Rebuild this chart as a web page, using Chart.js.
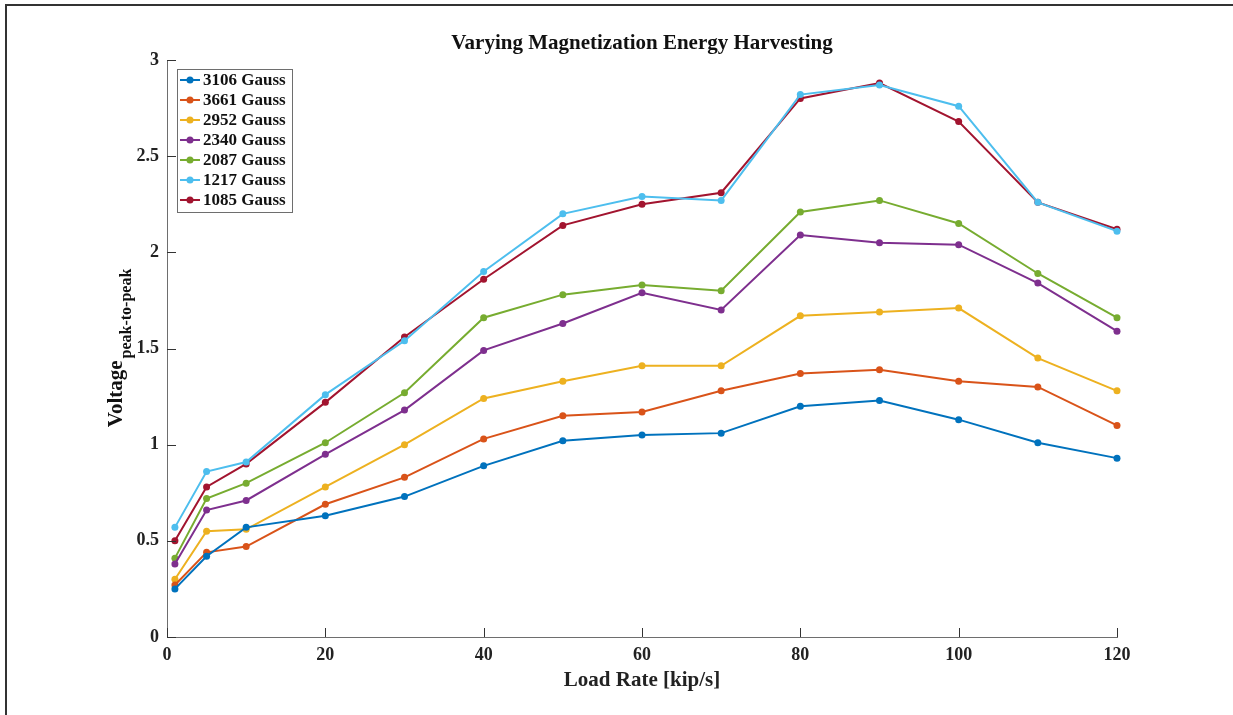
<!DOCTYPE html>
<html lang="en">
<head>
    <meta charset="UTF-8">
    <title>Varying Magnetization Energy Harvesting</title>
    <style>
      body { margin: 0; background: white; }
      #wrap { position: relative; width: 1233px; height: 715px; overflow: hidden; }
      #frame {
        position: absolute; left: 5px; top: 4px; width: 1240px; height: 720px;
        border-left: 2px solid #333; border-top: 2px solid #333;
      }
    </style>
</head>
<body>
    <div id="wrap">
      <div id="frame"></div>
      <canvas id="magChart" width="1233" height="715"></canvas>
    </div>

    <script src="https://cdn.jsdelivr.net/npm/chart.js"></script>
    <script>
        // data
        const loadRates = [1, 5, 10, 20, 30, 40, 50, 60, 70, 80, 90, 100, 110, 120];
        const seriesNames = ['3106 Gauss', '3661 Gauss', '2952 Gauss', '2340 Gauss', '2087 Gauss', '1217 Gauss', '1085 Gauss'];
        const g3106 = [0.25, 0.42, 0.57, 0.63, 0.73, 0.89, 1.02, 1.05, 1.06, 1.20, 1.23, 1.13, 1.01, 0.93];
        const g3661 = [0.27, 0.44, 0.47, 0.69, 0.83, 1.03, 1.15, 1.17, 1.28, 1.37, 1.39, 1.33, 1.30, 1.10];
        const g2952 = [0.30, 0.55, 0.56, 0.78, 1.00, 1.24, 1.33, 1.41, 1.41, 1.67, 1.69, 1.71, 1.45, 1.28];
        const g2340 = [0.38, 0.66, 0.71, 0.95, 1.18, 1.49, 1.63, 1.79, 1.70, 2.09, 2.05, 2.04, 1.84, 1.59];
        const g2087 = [0.41, 0.72, 0.80, 1.01, 1.27, 1.66, 1.78, 1.83, 1.80, 2.21, 2.27, 2.15, 1.89, 1.66];
        const g1217 = [0.57, 0.86, 0.91, 1.26, 1.54, 1.90, 2.20, 2.29, 2.27, 2.82, 2.87, 2.76, 2.26, 2.11];
        const g1085 = [0.50, 0.78, 0.90, 1.22, 1.56, 1.86, 2.14, 2.25, 2.31, 2.80, 2.88, 2.68, 2.26, 2.12];
        const seriesValues = [g3106, g3661, g2952, g2340, g2087, g1217, g1085];
        const seriesColors = ['#0072BD', '#D95319', '#EDB120', '#7E2F8E', '#77AC30', '#4DBEEE', '#A2142F'];
        const xTicks = [0, 20, 40, 60, 80, 100, 120];
        const yTicks = [0, 0.5, 1, 1.5, 2, 2.5, 3];

        const serif = '"Liberation Serif", "Times New Roman", serif';
        const axisColor = '#6e6e6e';

        const datasets = seriesNames.map((name, i) => ({
            label: name,
            data: loadRates.map((x, j) => ({ x: x, y: seriesValues[i][j] })),
            borderColor: seriesColors[i],
            backgroundColor: seriesColors[i],
            borderWidth: 2,
            pointRadius: 3.5,
            pointHoverRadius: 3.5,
            pointBorderWidth: 0,
            tension: 0,
            clip: false
        }));

        // title, y label with subscript, inward ticks, legend box
        const extras = {
            id: 'extras',
            afterDraw(chart) {
                const c = chart.ctx;
                const area = chart.chartArea;
                const xs = chart.scales.x, ys = chart.scales.y;
                c.save();

                // inward ticks
                c.strokeStyle = '#333';
                c.lineWidth = 1;
                c.beginPath();
                yTicks.forEach(v => {
                    const py = Math.round(ys.getPixelForValue(v)) + 0.5;
                    c.moveTo(area.left, py); c.lineTo(area.left + 9, py);
                });
                xTicks.forEach(v => {
                    const px = Math.round(xs.getPixelForValue(v)) + 0.5;
                    c.moveTo(px, area.bottom); c.lineTo(px, area.bottom - 9);
                });
                c.stroke();

                // title
                c.fillStyle = '#111';
                c.font = 'bold 21px ' + serif;
                c.textAlign = 'center';
                c.textBaseline = 'middle';
                c.fillText('Varying Magnetization Energy Harvesting', (area.left + area.right) / 2, 44);

                // y axis label
                c.translate(117, 348);
                c.rotate(-Math.PI / 2);
                c.font = 'bold 21px ' + serif;
                const mainW = c.measureText('Voltage').width;
                c.font = 'bold 16px ' + serif;
                const subW = c.measureText('peak-to-peak').width;
                const start = -(mainW + subW + 2) / 2;
                c.textAlign = 'left';
                c.textBaseline = 'middle';
                c.font = 'bold 21px ' + serif;
                c.fillText('Voltage', start, 0);
                c.font = 'bold 16px ' + serif;
                c.fillText('peak-to-peak', start + mainW + 2, 10);
                c.setTransform(1, 0, 0, 1, 0, 0);

                // legend
                const lx = 177, ly = 69, lw = 115, rowH = 20;
                const lh = rowH * seriesNames.length + 3;
                c.fillStyle = 'white';
                c.fillRect(lx, ly, lw, lh);
                c.strokeStyle = '#6e6e6e';
                c.strokeRect(lx + 0.5, ly + 0.5, lw, lh);
                c.font = 'bold 17px ' + serif;
                c.textAlign = 'left';
                c.textBaseline = 'middle';
                chart.data.datasets.forEach((ds, i) => {
                    const cy = ly + 11 + i * rowH;
                    c.strokeStyle = ds.borderColor;
                    c.lineWidth = 2;
                    c.beginPath();
                    c.moveTo(lx + 3, cy); c.lineTo(lx + 23, cy);
                    c.stroke();
                    c.fillStyle = ds.borderColor;
                    c.beginPath();
                    c.arc(lx + 13, cy, 3.5, 0, Math.PI * 2);
                    c.fill();
                    c.fillStyle = '#111';
                    c.fillText(ds.label, lx + 26, cy + 1);
                });
                c.restore();
            }
        };

        const ctx = document.getElementById('magChart').getContext('2d');
        const magChart = new Chart(ctx, {
            type: 'line',
            data: { datasets: datasets },
            options: {
                responsive: false,
                animation: false,
                layout: { padding: { top: 60, right: 116, bottom: 0, left: 0 } },
                plugins: {
                    legend: { display: false },
                    title: { display: false },
                    tooltip: { enabled: false }
                },
                scales: {
                    x: {
                        type: 'linear',
                        min: 0,
                        max: 120,
                        afterFit: scale => { scale.height = 78; },
                        afterBuildTicks: scale => { scale.ticks = xTicks.map(v => ({ value: v })); },
                        grid: { display: false, drawTicks: false },
                        border: { display: true, color: axisColor, width: 1 },
                        ticks: {
                            color: '#222',
                            padding: 8,
                            maxRotation: 0,
                            font: { family: serif, size: 18, weight: 'bold' }
                        },
                        title: {
                            display: true,
                            text: 'Load Rate [kip/s]',
                            color: '#222',
                            font: { family: serif, size: 21, weight: 'bold' },
                            padding: { top: 0, bottom: 22 }
                        }
                    },
                    y: {
                        min: 0,
                        max: 3,
                        afterFit: scale => { scale.width = 167; },
                        afterBuildTicks: scale => { scale.ticks = yTicks.map(v => ({ value: v })); },
                        grid: { display: false, drawTicks: false },
                        border: { display: true, color: axisColor, width: 1 },
                        ticks: {
                            color: '#222',
                            padding: 8,
                            font: { family: serif, size: 18, weight: 'bold' },
                            callback: v => String(v)
                        }
                    }
                }
            },
            plugins: [extras]
        });
    </script>
</body>
</html>
